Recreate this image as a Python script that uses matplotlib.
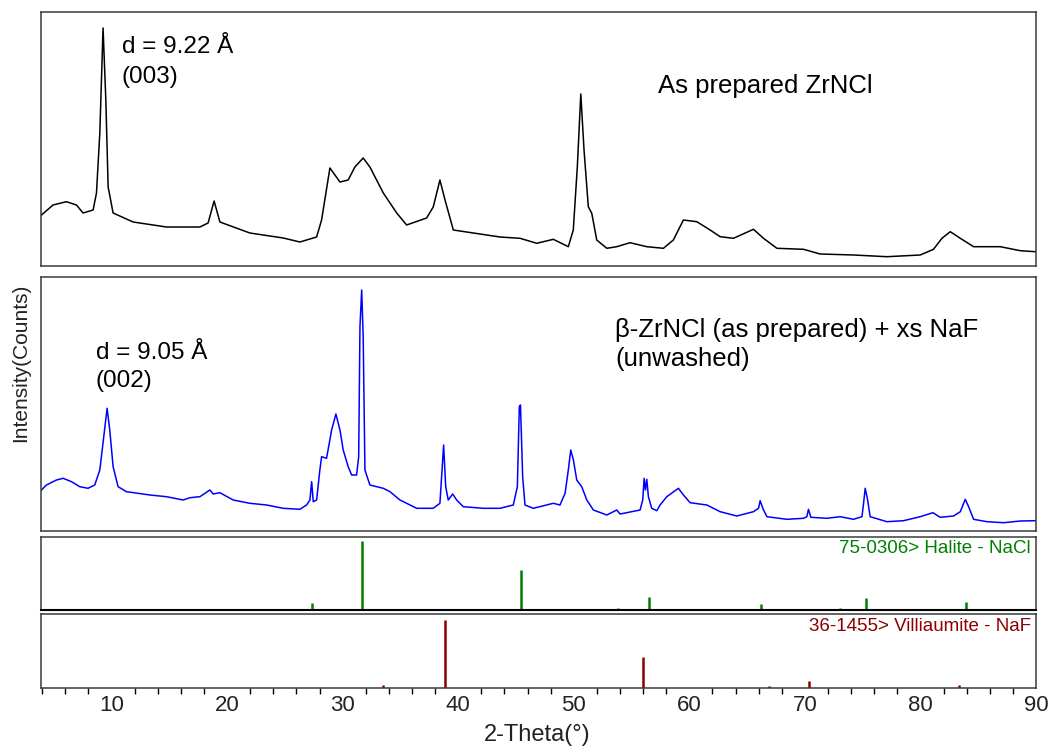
import matplotlib
matplotlib.use('Agg')
import matplotlib.pyplot as plt
import matplotlib.ticker as ticker

plt.rcParams['font.family'] = ['Liberation Sans', 'DejaVu Sans']

# As prepared ZrNCl (black trace), 2-theta in degrees, intensity in arbitrary counts
top_tt = [3.94, 4.94, 6.10, 6.97, 7.54, 8.41, 8.70, 8.99, 9.27, 9.51, 9.71, 10.14,
          11.87, 14.76, 17.65, 18.36, 18.88, 19.38, 21.97, 24.86, 26.30, 27.75, 28.18,
          28.90, 29.77, 30.48, 31.06, 31.78, 32.36, 33.52, 34.68, 35.54, 37.27, 37.84,
          38.42, 38.86, 39.58, 41.31, 43.62, 45.35, 46.80, 48.23, 49.53, 49.96, 50.31,
          50.61, 50.89, 51.26, 51.56, 51.99, 52.86, 53.72, 54.87, 56.32, 57.76, 58.62,
          59.49, 60.65, 61.80, 62.67, 63.82, 65.55, 66.42, 67.58, 69.88, 71.32, 74.21,
          77.10, 79.98, 81.13, 81.86, 82.58, 83.45, 84.60, 86.91, 88.64, 89.94]
top_counts = [50.7, 60.7, 64, 60.7, 52.7, 55.7, 72.7, 132.7, 237.7, 165.7, 78.7, 52.7,
              43.7, 38.7, 38.7, 42.7, 64.7, 43.7, 32.7, 27.7, 23.7, 28.7, 45.7,
              97.7, 83.7, 85.7, 98.7, 107.7, 98.7, 72.7, 52.7, 40.7, 47.7, 58.7,
              85.7, 65.7, 35.7, 32.7, 28.7, 27.4, 22.4, 26.4, 19, 35.7, 99,
              171.7, 115.7, 59, 52.4, 25.7, 17.4, 19, 23, 19, 17.4, 25.7,
              45.7, 44, 35.7, 29, 27.4, 36.4, 27.4, 17.4, 16.4, 11.7, 10.7,
              9, 10.7, 16.4, 27.4, 34, 27.4, 19, 19, 15, 14]

# beta-ZrNCl + xs NaF, unwashed (blue trace)
mid_tt = [3.94, 4.37, 5.24, 5.81, 6.54, 7.26, 7.97, 8.55, 8.99, 9.33, 9.62, 9.85, 10.14,
          10.57, 11.30, 13.32, 14.76, 16.20, 16.78, 17.65, 18.51, 18.80, 19.38, 20.53,
          21.97, 23.42, 24.86, 26.30, 26.88, 27.17, 27.32, 27.46, 27.75, 28.03, 28.18,
          28.61, 29.05, 29.42, 29.77, 30.05, 30.48, 30.78, 31.21, 31.39, 31.50, 31.65,
          31.78, 31.93, 32.36, 33.52, 34.10, 34.96, 36.41, 37.84, 38.42, 38.57, 38.74,
          38.92, 39.14, 39.52, 39.87, 40.44, 42.17, 43.62, 44.77, 45.12, 45.29, 45.39,
          45.58, 45.78, 46.50, 47.66, 48.23, 48.81, 49.25, 49.53, 49.74, 49.97, 50.26,
          50.69, 51.13, 51.70, 52.86, 53.72, 54.01, 55.74, 55.97, 56.09, 56.20, 56.32,
          56.46, 56.75, 57.19, 57.47, 58.05, 59.06, 59.49, 60.07, 61.52, 62.67, 64.11,
          65.55, 65.99, 66.13, 66.36, 66.71, 68.44, 69.88, 70.17, 70.31, 70.52, 71.90,
          73.06, 74.21, 74.94, 75.08, 75.22, 75.42, 75.65, 77.10, 78.54, 79.98, 81.08,
          81.71, 82.87, 83.45, 83.88, 84.17, 84.60, 85.76, 87.20, 88.64, 89.94]
mid_counts = [41, 46, 51, 52.7, 49.3, 44.3, 42.7, 46, 61, 94.3, 122.7, 101, 64.3,
              44.3, 39.3, 36, 34.3, 31, 33.3, 34.3, 41, 37, 38.3, 31,
              27.7, 26, 22.7, 21.7, 26, 31, 49.3, 29.3, 31, 61, 74.3,
              72.7, 101, 117, 101, 81, 64.3, 56, 56, 74.3, 204.3, 241,
              194.3, 61, 46, 42.7, 39.3, 31, 22.7, 22.7, 27.7, 54.3, 86,
              44.3, 31, 37, 31, 24.3, 22.7, 22.7, 26, 44.3, 124.3, 126,
              54.3, 26, 22.7, 26, 27.7, 26, 37.7, 61, 81, 71, 51,
              44.3, 31, 21, 16, 21, 17, 21, 31, 52.7, 41, 51.7,
              34.3, 22.7, 20.3, 26, 34.3, 42.7, 36, 28.3, 26, 19.3, 15,
              19.3, 22.7, 30.3, 22.7, 14.3, 11.7, 12.7, 14.3, 21.7, 13.7, 12.7,
              14.3, 11.7, 14.3, 27.7, 42.7, 31.7, 14.3, 9.3, 10.3, 14.3, 18.3,
              13.7, 15, 19.3, 31.7, 24.3, 11.7, 9.3, 8.3, 10, 10.3]

# reference patterns (relative intensity)
halite_tt = [27.37, 31.69, 45.45, 53.87, 56.48, 66.22, 73.07, 75.30, 83.97]
halite_int = [11, 100, 58, 4, 19, 9, 3, 18, 12]
naf_tt = [33.50, 38.83, 56.03, 66.90, 70.35, 83.30]
naf_int = [4, 100, 46, 3, 10, 4]

W, H = 1050, 749
fig = plt.figure(figsize=(W / 100, H / 100), dpi=100)


def px_axes(top, bottom, left=41, right=1036):
    return fig.add_axes([left / W, 1 - bottom / H, (right - left) / W, (bottom - top) / H])


ax1 = px_axes(12.3, 265.7)
ax2 = px_axes(277.3, 531)
ax3 = px_axes(536.7, 610.3)
ax4 = px_axes(614.3, 688)

frame = '#3a3a3a'
for ax in (ax1, ax2, ax3, ax4):
    ax.set_xlim(3.9, 90)
    ax.set_yticks([])
    for sp in ax.spines.values():
        sp.set_color(frame)
        sp.set_linewidth(1.1)
    ax.tick_params(axis='x', which='both', bottom=False, labelbottom=False)

ax1.plot(top_tt, top_counts, color='black', lw=1.1)
ax1.set_ylim(0, 253.4)
ax2.plot(mid_tt, mid_counts, color='blue', lw=1.1)
ax2.set_ylim(0, 253.7)

ax3.vlines(halite_tt, 0, halite_int, color='#008000', lw=1.8)
ax3.set_ylim(0, 106.2)
ax4.vlines(naf_tt, 0, naf_int, color='#8b0000', lw=1.8)
ax4.set_ylim(0, 108.4)

ax3.spines['bottom'].set_color('black')
ax3.spines['bottom'].set_linewidth(1.5)

ax4.xaxis.set_major_locator(ticker.MultipleLocator(10))
ax4.xaxis.set_minor_locator(ticker.MultipleLocator(2))
ax4.tick_params(axis='x', which='major', bottom=True, labelbottom=True,
                length=0, pad=5, labelsize=16, colors='#222222')
ax4.tick_params(axis='x', which='minor', bottom=True, length=4, width=1, color='black')

ax1.text(10.87, 212.7, 'd = 9.22 Å', fontsize=17.5, color='black')
ax1.text(10.87, 182.4, '(003)', fontsize=17.5, color='black')
ax1.text(57.27, 173, 'As prepared ZrNCl', fontsize=18.5, color='black')

ax2.text(8.64, 171.7, 'd = 9.05 Å', fontsize=17.5, color='black')
ax2.text(8.64, 143.7, '(002)', fontsize=17.5, color='black')
ax2.text(53.58, 194.3, 'β-ZrNCl (as prepared) + xs NaF', fontsize=18.5, color='black')
ax2.text(53.58, 165.0, '(unwashed)', fontsize=18.5, color='black')

ax3.text(0.995, 0.833, '75-0306> Halite - NaCl', transform=ax3.transAxes,
         ha='right', va='center', fontsize=13.5, color='#008000')
ax4.text(0.995, 0.832, '36-1455> Villiaumite - NaF', transform=ax4.transAxes,
         ha='right', va='center', fontsize=13.5, color='#8b0000')

fig.text(21 / W, 1 - 363 / H, 'Intensity(Counts)', rotation=90, ha='center', va='center',
         fontsize=15, color='#222222')
fig.text(537.5 / W, 1 - 735 / H, '2-Theta(°)', ha='center', va='center',
         fontsize=17, color='#222222')

fig.savefig('out.png', dpi=100)
